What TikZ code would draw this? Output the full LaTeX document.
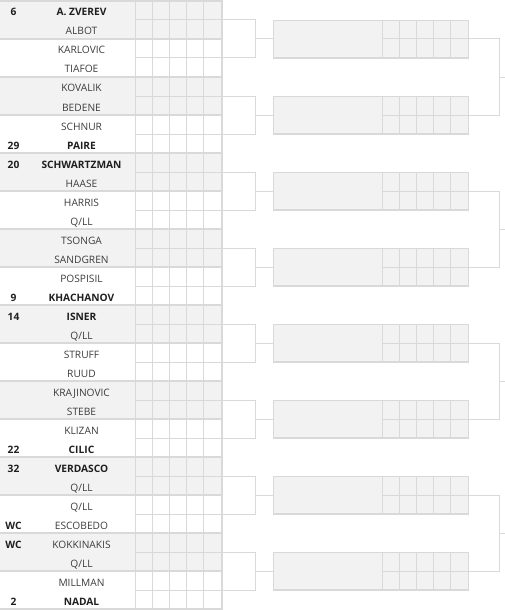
\documentclass[tikz,border=0pt]{standalone}
\usepackage{fontspec}
\setmainfont{Open Sans}
\usetikzlibrary{calc}
\definecolor{cellgray}{HTML}{F2F2F2}
\definecolor{rulegray}{HTML}{D9D9D9}
\definecolor{namegray}{HTML}{3C3C3C}
\newcommand{\QLL}{Q/LL}
\newcommand{\win}[1]{\textbf{\color{black!88}#1}}

\begin{document}
\begin{tikzpicture}[x=1pt,y=-1pt,
		match/.style={rectangle,inner sep=0pt,minimum width=221pt,minimum height=38pt},
		slot/.style={rectangle,draw=rulegray,fill=cellgray,inner sep=0pt,minimum width=195pt,minimum height=38pt},
		player/.style={anchor=base,inner sep=0pt,text=namegray,font=\fontsize{10.2}{12}\selectfont},
		seed/.style={player,text=black!88,font=\fontsize{10.2}{12}\selectfont\bfseries},
		rule/.style={draw=rulegray,line width=1pt},
		thickrule/.style={draw=rulegray,line width=2pt},
		bracket/.style={draw=rulegray,line width=1pt}]
		\useasboundingbox (0,0) rectangle (505,610);
		
		% shaded matches of the first round
		\foreach \i in {1,3,...,15}
			\fill[cellgray] (0,38*\i-37) rectangle (221,38*\i+1);
		\draw[thickrule] (0,1) -- (221,1);
		
		% first round
		\foreach \i/\sa/\na/\sb/\nb in {1/6/\win{A. ZVEREV}/{}/ALBOT,
				2/{}/KARLOVIC/{}/TIAFOE, 3/{}/KOVALIK/{}/BEDENE,
				4/{}/SCHNUR/29/\win{PAIRE}, 5/20/\win{SCHWARTZMAN}/{}/HAASE,
				6/{}/HARRIS/{}/\QLL, 7/{}/TSONGA/{}/SANDGREN,
				8/{}/POSPISIL/9/\win{KHACHANOV}, 9/14/\win{ISNER}/{}/\QLL,
				10/{}/STRUFF/{}/RUUD, 11/{}/KRAJINOVIC/{}/STEBE,
				12/{}/KLIZAN/22/\win{CILIC}, 13/32/\win{VERDASCO}/{}/\QLL,
				14/{}/\QLL/WC/ESCOBEDO, 15/WC/KOKKINAKIS/{}/\QLL,
				16/{}/MILLMAN/2/\win{NADAL}} {
			\node[match]  (m\i)  at (110.5,38*\i-18)  {};
			\node[seed]   (sa\i) at (13.5,38*\i-22) {\sa};
			\node[player] (na\i) at (81.5,38*\i-22) {\na};
			\node[seed]   (sb\i) at (13.5,38*\i-3)  {\sb};
			\node[player] (nb\i) at (81.5,38*\i-3)  {\nb};
			\foreach \j in {0,...,4}
				\draw[rule] (135+17.2*\j,38*\i-37) -- ++(0,38);
			\draw[rule] (135,38*\i-18) -- (221,38*\i-18);
			\draw[thickrule] (0,38*\i+1) -- (221,38*\i+1);
		}
		\draw[thickrule] (221.8,0) -- (221.8,610);
		
		% second round
		\foreach \k in {0,...,7} {
			\pgfmathtruncatemacro\a{2*\k+1}
			\pgfmathtruncatemacro\b{2*\k+2}
			\node[slot] (r\k) at (370.5,76*\k+39) {};
			\foreach \j in {0,...,4}
				\draw[rule] (382+17.2*\j,76*\k+20) -- ++(0,38);
			\draw[rule] (382,76*\k+39) -- (468,76*\k+39);
			\draw[thickrule] (273,76*\k+58) -- (468,76*\k+58);
			\draw[bracket] (m\a.east) -- ++(34,0) |- (m\b.east);
			\draw[bracket] (r\k.west) -- ++(-18,0);
		}
		
		% third round brackets
		\foreach \k in {0,...,3} {
			\pgfmathtruncatemacro\a{2*\k}
			\pgfmathtruncatemacro\b{2*\k+1}
			\draw[bracket] (r\a.east) -- ++(31,0) |- (r\b.east);
			\draw[bracket] ($(r\a.east)!.5!(r\b.east)$) ++(31,0) -- ++(6,0);
		}
		\end{tikzpicture}
\end{document}
